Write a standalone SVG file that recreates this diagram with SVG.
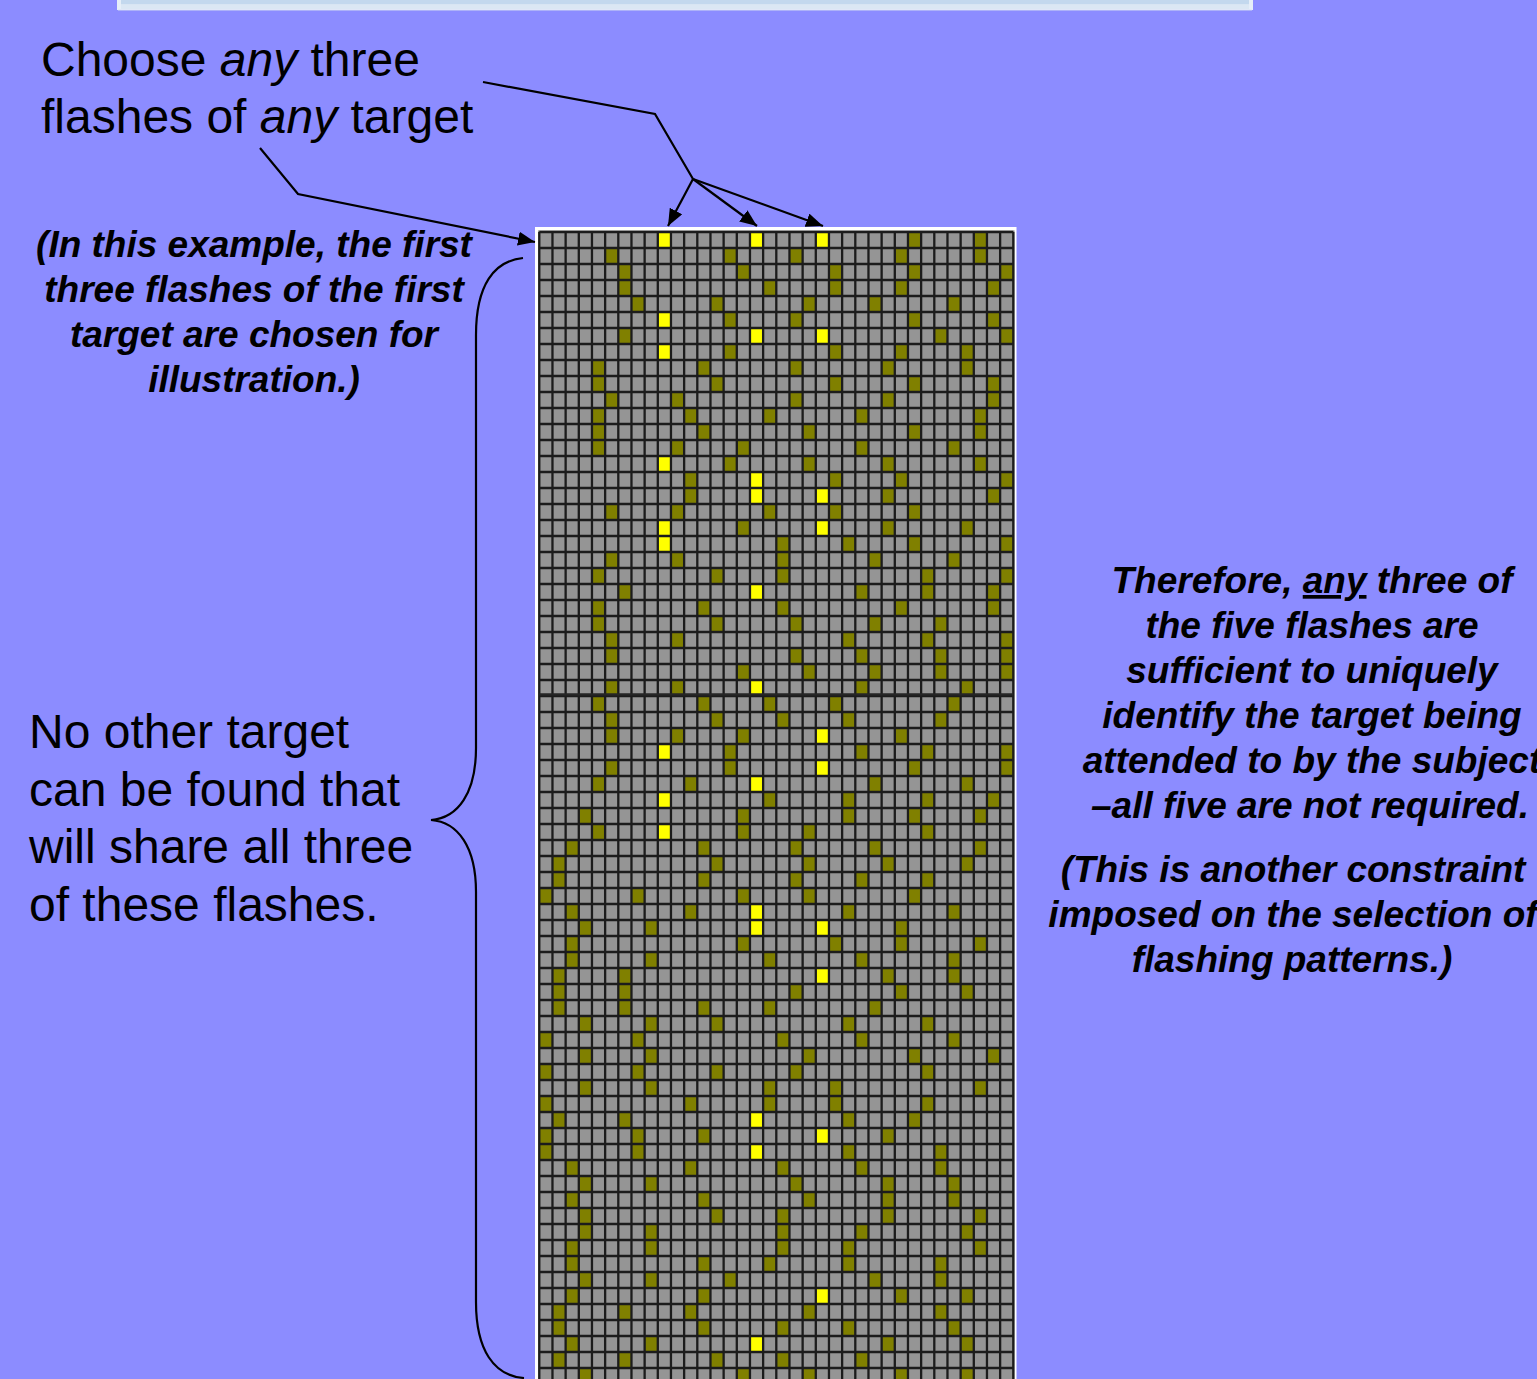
<svg xmlns="http://www.w3.org/2000/svg" width="1537" height="1379" viewBox="0 0 1537 1379">
<style>
.reg{font-family:"Liberation Sans",Arial,sans-serif;font-size:48px;fill:#000}
.bi{font-family:"Liberation Sans",Arial,sans-serif;font-size:37px;font-weight:bold;font-style:italic;fill:#000}
.conn{fill:none;stroke:#000;stroke-width:2.2}
.grid{fill:none;stroke:#1c1c1c;stroke-width:2.3}
</style>
<defs>
<marker id="ah" markerUnits="userSpaceOnUse" markerWidth="18" markerHeight="14" refX="17" refY="7" orient="auto">
<path d="M0 0L17 7L0 14z" fill="#000"/>
</marker>
</defs>
<rect x="0" y="0" width="1537" height="1379" fill="#8c8cff"/>
<g id="title-bar">
<rect x="117" y="-4" width="1136" height="14" fill="#e6eef8"/>
<rect x="121" y="-4" width="1128" height="8.5" fill="#c3d8ee"/>
<rect x="121" y="4.5" width="1128" height="4.5" fill="#dbe7f4"/>
<line x1="118" y1="10.3" x2="1252" y2="10.3" stroke="#c0c8f4" stroke-width="0.8"/>
</g>
<g id="grid-node">
<rect x="535" y="227" width="481.5" height="1160" fill="#ffffff"/>
<g transform="translate(539.3,232) scale(13.16667,16)">
<rect x="-0.1" y="-0.1" width="36.2" height="72.2" fill="#959595"/>
<path fill="#808000" d="M28 0h1v1h-1zM33 0h1v1h-1zM5 1h1v1h-1zM14 1h1v1h-1zM19 1h1v1h-1zM27 1h1v1h-1zM33 1h1v1h-1zM6 2h1v1h-1zM15 2h1v1h-1zM22 2h1v1h-1zM28 2h1v1h-1zM35 2h1v1h-1zM6 3h1v1h-1zM17 3h1v1h-1zM22 3h1v1h-1zM27 3h1v1h-1zM34 3h1v1h-1zM7 4h1v1h-1zM13 4h1v1h-1zM20 4h1v1h-1zM25 4h1v1h-1zM31 4h1v1h-1zM14 5h1v1h-1zM19 5h1v1h-1zM28 5h1v1h-1zM34 5h1v1h-1zM6 6h1v1h-1zM30 6h1v1h-1zM35 6h1v1h-1zM14 7h1v1h-1zM22 7h1v1h-1zM27 7h1v1h-1zM32 7h1v1h-1zM4 8h1v1h-1zM12 8h1v1h-1zM19 8h1v1h-1zM26 8h1v1h-1zM32 8h1v1h-1zM4 9h1v1h-1zM13 9h1v1h-1zM22 9h1v1h-1zM28 9h1v1h-1zM34 9h1v1h-1zM5 10h1v1h-1zM10 10h1v1h-1zM19 10h1v1h-1zM26 10h1v1h-1zM34 10h1v1h-1zM4 11h1v1h-1zM11 11h1v1h-1zM17 11h1v1h-1zM24 11h1v1h-1zM33 11h1v1h-1zM4 12h1v1h-1zM12 12h1v1h-1zM20 12h1v1h-1zM28 12h1v1h-1zM33 12h1v1h-1zM4 13h1v1h-1zM10 13h1v1h-1zM15 13h1v1h-1zM24 13h1v1h-1zM31 13h1v1h-1zM14 14h1v1h-1zM20 14h1v1h-1zM26 14h1v1h-1zM33 14h1v1h-1zM11 15h1v1h-1zM22 15h1v1h-1zM27 15h1v1h-1zM35 15h1v1h-1zM11 16h1v1h-1zM26 16h1v1h-1zM34 16h1v1h-1zM5 17h1v1h-1zM10 17h1v1h-1zM17 17h1v1h-1zM22 17h1v1h-1zM28 17h1v1h-1zM15 18h1v1h-1zM26 18h1v1h-1zM32 18h1v1h-1zM18 19h1v1h-1zM23 19h1v1h-1zM28 19h1v1h-1zM35 19h1v1h-1zM5 20h1v1h-1zM10 20h1v1h-1zM18 20h1v1h-1zM25 20h1v1h-1zM31 20h1v1h-1zM4 21h1v1h-1zM13 21h1v1h-1zM18 21h1v1h-1zM29 21h1v1h-1zM35 21h1v1h-1zM6 22h1v1h-1zM24 22h1v1h-1zM29 22h1v1h-1zM34 22h1v1h-1zM4 23h1v1h-1zM12 23h1v1h-1zM18 23h1v1h-1zM27 23h1v1h-1zM34 23h1v1h-1zM4 24h1v1h-1zM13 24h1v1h-1zM19 24h1v1h-1zM25 24h1v1h-1zM30 24h1v1h-1zM5 25h1v1h-1zM10 25h1v1h-1zM23 25h1v1h-1zM29 25h1v1h-1zM35 25h1v1h-1zM5 26h1v1h-1zM19 26h1v1h-1zM24 26h1v1h-1zM30 26h1v1h-1zM35 26h1v1h-1zM15 27h1v1h-1zM20 27h1v1h-1zM25 27h1v1h-1zM30 27h1v1h-1zM35 27h1v1h-1zM5 28h1v1h-1zM10 28h1v1h-1zM24 28h1v1h-1zM32 28h1v1h-1zM4 29h1v1h-1zM12 29h1v1h-1zM17 29h1v1h-1zM22 29h1v1h-1zM31 29h1v1h-1zM5 30h1v1h-1zM13 30h1v1h-1zM18 30h1v1h-1zM23 30h1v1h-1zM30 30h1v1h-1zM5 31h1v1h-1zM10 31h1v1h-1zM15 31h1v1h-1zM27 31h1v1h-1zM14 32h1v1h-1zM24 32h1v1h-1zM29 32h1v1h-1zM35 32h1v1h-1zM5 33h1v1h-1zM14 33h1v1h-1zM28 33h1v1h-1zM35 33h1v1h-1zM4 34h1v1h-1zM11 34h1v1h-1zM25 34h1v1h-1zM32 34h1v1h-1zM17 35h1v1h-1zM23 35h1v1h-1zM29 35h1v1h-1zM34 35h1v1h-1zM3 36h1v1h-1zM15 36h1v1h-1zM23 36h1v1h-1zM28 36h1v1h-1zM33 36h1v1h-1zM4 37h1v1h-1zM15 37h1v1h-1zM20 37h1v1h-1zM29 37h1v1h-1zM2 38h1v1h-1zM12 38h1v1h-1zM19 38h1v1h-1zM25 38h1v1h-1zM33 38h1v1h-1zM1 39h1v1h-1zM13 39h1v1h-1zM20 39h1v1h-1zM26 39h1v1h-1zM32 39h1v1h-1zM1 40h1v1h-1zM12 40h1v1h-1zM19 40h1v1h-1zM24 40h1v1h-1zM29 40h1v1h-1zM0 41h1v1h-1zM7 41h1v1h-1zM15 41h1v1h-1zM20 41h1v1h-1zM28 41h1v1h-1zM2 42h1v1h-1zM11 42h1v1h-1zM23 42h1v1h-1zM31 42h1v1h-1zM3 43h1v1h-1zM8 43h1v1h-1zM27 43h1v1h-1zM2 44h1v1h-1zM15 44h1v1h-1zM22 44h1v1h-1zM27 44h1v1h-1zM33 44h1v1h-1zM2 45h1v1h-1zM8 45h1v1h-1zM17 45h1v1h-1zM24 45h1v1h-1zM31 45h1v1h-1zM1 46h1v1h-1zM6 46h1v1h-1zM26 46h1v1h-1zM31 46h1v1h-1zM1 47h1v1h-1zM6 47h1v1h-1zM19 47h1v1h-1zM27 47h1v1h-1zM32 47h1v1h-1zM1 48h1v1h-1zM6 48h1v1h-1zM12 48h1v1h-1zM17 48h1v1h-1zM25 48h1v1h-1zM3 49h1v1h-1zM8 49h1v1h-1zM13 49h1v1h-1zM23 49h1v1h-1zM29 49h1v1h-1zM0 50h1v1h-1zM7 50h1v1h-1zM18 50h1v1h-1zM24 50h1v1h-1zM31 50h1v1h-1zM3 51h1v1h-1zM8 51h1v1h-1zM20 51h1v1h-1zM28 51h1v1h-1zM34 51h1v1h-1zM0 52h1v1h-1zM7 52h1v1h-1zM13 52h1v1h-1zM19 52h1v1h-1zM29 52h1v1h-1zM3 53h1v1h-1zM8 53h1v1h-1zM17 53h1v1h-1zM22 53h1v1h-1zM33 53h1v1h-1zM0 54h1v1h-1zM11 54h1v1h-1zM17 54h1v1h-1zM22 54h1v1h-1zM29 54h1v1h-1zM1 55h1v1h-1zM6 55h1v1h-1zM23 55h1v1h-1zM28 55h1v1h-1zM0 56h1v1h-1zM7 56h1v1h-1zM12 56h1v1h-1zM26 56h1v1h-1zM0 57h1v1h-1zM7 57h1v1h-1zM23 57h1v1h-1zM30 57h1v1h-1zM2 58h1v1h-1zM11 58h1v1h-1zM18 58h1v1h-1zM24 58h1v1h-1zM30 58h1v1h-1zM3 59h1v1h-1zM8 59h1v1h-1zM19 59h1v1h-1zM26 59h1v1h-1zM31 59h1v1h-1zM2 60h1v1h-1zM12 60h1v1h-1zM20 60h1v1h-1zM26 60h1v1h-1zM31 60h1v1h-1zM3 61h1v1h-1zM13 61h1v1h-1zM18 61h1v1h-1zM26 61h1v1h-1zM33 61h1v1h-1zM3 62h1v1h-1zM8 62h1v1h-1zM18 62h1v1h-1zM24 62h1v1h-1zM32 62h1v1h-1zM2 63h1v1h-1zM8 63h1v1h-1zM18 63h1v1h-1zM23 63h1v1h-1zM33 63h1v1h-1zM2 64h1v1h-1zM12 64h1v1h-1zM17 64h1v1h-1zM23 64h1v1h-1zM30 64h1v1h-1zM3 65h1v1h-1zM8 65h1v1h-1zM14 65h1v1h-1zM25 65h1v1h-1zM30 65h1v1h-1zM2 66h1v1h-1zM12 66h1v1h-1zM27 66h1v1h-1zM32 66h1v1h-1zM1 67h1v1h-1zM6 67h1v1h-1zM11 67h1v1h-1zM20 67h1v1h-1zM30 67h1v1h-1zM1 68h1v1h-1zM12 68h1v1h-1zM18 68h1v1h-1zM23 68h1v1h-1zM31 68h1v1h-1zM2 69h1v1h-1zM8 69h1v1h-1zM26 69h1v1h-1zM32 69h1v1h-1zM1 70h1v1h-1zM6 70h1v1h-1zM13 70h1v1h-1zM18 70h1v1h-1zM24 70h1v1h-1zM3 71h1v1h-1zM15 71h1v1h-1zM20 71h1v1h-1zM27 71h1v1h-1zM32 71h1v1h-1z"/>
<path fill="#ffff00" d="M9 0h1v1h-1zM16 0h1v1h-1zM21 0h1v1h-1zM9 5h1v1h-1zM16 6h1v1h-1zM21 6h1v1h-1zM9 7h1v1h-1zM9 14h1v1h-1zM16 15h1v1h-1zM16 16h1v1h-1zM21 16h1v1h-1zM9 18h1v1h-1zM21 18h1v1h-1zM9 19h1v1h-1zM16 22h1v1h-1zM16 28h1v1h-1zM21 31h1v1h-1zM9 32h1v1h-1zM21 33h1v1h-1zM16 34h1v1h-1zM9 35h1v1h-1zM9 37h1v1h-1zM16 42h1v1h-1zM16 43h1v1h-1zM21 43h1v1h-1zM21 46h1v1h-1zM16 55h1v1h-1zM21 56h1v1h-1zM16 57h1v1h-1zM21 66h1v1h-1zM16 69h1v1h-1z"/>
<path class="grid" vector-effect="non-scaling-stroke" d="M0 0v72M1 0v72M2 0v72M3 0v72M4 0v72M5 0v72M6 0v72M7 0v72M8 0v72M9 0v72M10 0v72M11 0v72M12 0v72M13 0v72M14 0v72M15 0v72M16 0v72M17 0v72M18 0v72M19 0v72M20 0v72M21 0v72M22 0v72M23 0v72M24 0v72M25 0v72M26 0v72M27 0v72M28 0v72M29 0v72M30 0v72M31 0v72M32 0v72M33 0v72M34 0v72M35 0v72M36 0v72M0 0h36M0 1h36M0 2h36M0 3h36M0 4h36M0 5h36M0 6h36M0 7h36M0 8h36M0 9h36M0 10h36M0 11h36M0 12h36M0 13h36M0 14h36M0 15h36M0 16h36M0 17h36M0 18h36M0 19h36M0 20h36M0 21h36M0 22h36M0 23h36M0 24h36M0 25h36M0 26h36M0 27h36M0 28h36M0 29h36M0 30h36M0 31h36M0 32h36M0 33h36M0 34h36M0 35h36M0 36h36M0 37h36M0 38h36M0 39h36M0 40h36M0 41h36M0 42h36M0 43h36M0 44h36M0 45h36M0 46h36M0 47h36M0 48h36M0 49h36M0 50h36M0 51h36M0 52h36M0 53h36M0 54h36M0 55h36M0 56h36M0 57h36M0 58h36M0 59h36M0 60h36M0 61h36M0 62h36M0 63h36M0 64h36M0 65h36M0 66h36M0 67h36M0 68h36M0 69h36M0 70h36M0 71h36M0 72h36"/>
<path d="M0 28.9h36" fill="none" stroke="#262626" stroke-width="2.4" vector-effect="non-scaling-stroke"/>
</g>
</g>
<g id="label-choose">
<text class="reg" x="41" y="76">Choose <tspan font-style="italic">any</tspan> three</text>
<text class="reg" x="41" y="133">flashes of <tspan font-style="italic">any</tspan> target</text>
</g>
<g id="label-example">
<text class="bi" text-anchor="middle" x="254" y="257">(In this example, the first</text>
<text class="bi" text-anchor="middle" x="254" y="302">three flashes of the first</text>
<text class="bi" text-anchor="middle" x="254" y="347">target are chosen for</text>
<text class="bi" text-anchor="middle" x="254" y="392">illustration.)</text>
</g>
<g id="label-no-other">
<text class="reg" x="29" y="748">No other target</text>
<text class="reg" x="29" y="806">can be found that</text>
<text class="reg" x="29" y="863">will share all three</text>
<text class="reg" x="29" y="921">of these flashes.</text>
</g>
<g id="label-therefore">
<text class="bi" text-anchor="middle" x="1312" y="593">Therefore, <tspan text-decoration="underline">any</tspan> three of</text>
<text class="bi" text-anchor="middle" x="1312" y="638">the five flashes are</text>
<text class="bi" text-anchor="middle" x="1312" y="683">sufficient to uniquely</text>
<text class="bi" text-anchor="middle" x="1312" y="728">identify the target being</text>
<text class="bi" text-anchor="middle" x="1312" y="773">attended to by the subject</text>
<text class="bi" text-anchor="middle" x="1310" y="818">–all five are not required.</text>
</g>
<g id="label-constraint">
<text class="bi" text-anchor="middle" x="1293" y="882">(This is another constraint</text>
<text class="bi" text-anchor="middle" x="1293" y="927">imposed on the selection of</text>
<text class="bi" text-anchor="middle" x="1292" y="972">flashing patterns.)</text>
</g>
<g id="connectors">
<polyline class="conn" points="483,82 655,114 693,179"/>
<line class="conn" x1="693" y1="179" x2="668" y2="226" marker-end="url(#ah)"/>
<line class="conn" x1="693" y1="179" x2="757" y2="226" marker-end="url(#ah)"/>
<line class="conn" x1="693" y1="179" x2="823" y2="226" marker-end="url(#ah)"/>
<polyline class="conn" points="260,148 298,194 535,242" marker-end="url(#ah)"/>
<path class="conn" stroke-width="2.4" d="M523 258C494 261 476 285 476 335L476 748C476 793 458 818 431 820C458 822 476 847 476 892L476 1302C476 1350 494 1376 524 1378"/>
</g>
</svg>
